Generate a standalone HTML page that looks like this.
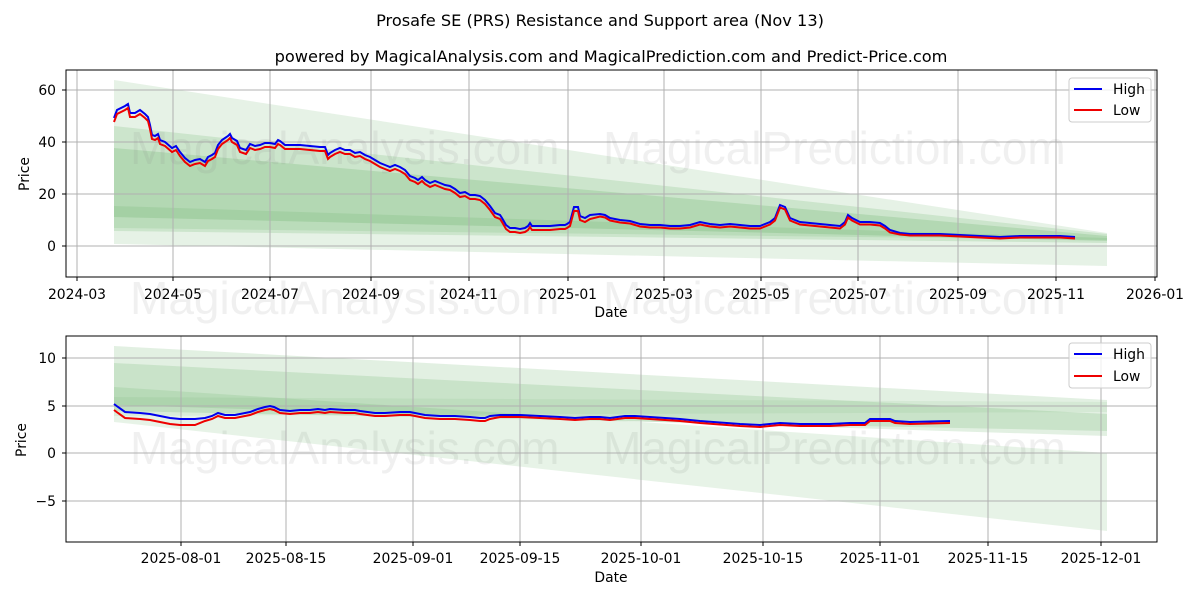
<!DOCTYPE html>
<html><head><meta charset="utf-8"><style>
body{margin:0;background:#fff;}
svg text{font-family:"DejaVu Sans","Liberation Sans",sans-serif;}
svg text.wm{font-family:"Liberation Sans","DejaVu Sans",sans-serif;}
</style></head><body>
<svg id="s" width="1200" height="600" xmlns="http://www.w3.org/2000/svg">
<rect width="1200" height="600" fill="#fff"/>
<text x="600" y="26" font-size="16.2" text-anchor="middle">Prosafe SE (PRS) Resistance and Support area (Nov 13)</text>
<text x="611" y="62" font-size="16.2" text-anchor="middle">powered by MagicalAnalysis.com and MagicalPrediction.com and Predict-Price.com</text>

<!-- top chart -->
<g fill="#3a9a3a">
<polygon points="114,80 1107,233 1107,266 114,244" fill-opacity="0.13"/>
<polygon points="114,126 1107,234 1107,243 114,231" fill-opacity="0.15"/>
<polygon points="114,148 1107,236 1107,241 114,217" fill-opacity="0.17"/>
<polygon points="114,206 1107,238 1107,240 114,228" fill-opacity="0.12"/>
</g>
<g stroke="#b0b0b0" stroke-width="1">
<line x1="77" y1="70" x2="77" y2="277"/><line x1="173" y1="70" x2="173" y2="277"/><line x1="270" y1="70" x2="270" y2="277"/><line x1="371" y1="70" x2="371" y2="277"/><line x1="469" y1="70" x2="469" y2="277"/><line x1="568" y1="70" x2="568" y2="277"/><line x1="664" y1="70" x2="664" y2="277"/><line x1="761" y1="70" x2="761" y2="277"/><line x1="858" y1="70" x2="858" y2="277"/><line x1="958" y1="70" x2="958" y2="277"/><line x1="1056" y1="70" x2="1056" y2="277"/><line x1="1155" y1="70" x2="1155" y2="277"/>
<line x1="66" y1="90" x2="1157" y2="90"/><line x1="66" y1="142" x2="1157" y2="142"/><line x1="66" y1="194" x2="1157" y2="194"/><line x1="66" y1="246" x2="1157" y2="246"/>
</g>
<g font-size="46" fill="#808080" fill-opacity="0.12">
<text class="wm" x="130" y="164">MagicalAnalysis.com</text><text class="wm" x="603" y="164">MagicalPrediction.com</text>
<text class="wm" x="130" y="314">MagicalAnalysis.com</text><text class="wm" x="603" y="314">MagicalPrediction.com</text>
<text class="wm" x="130" y="464">MagicalAnalysis.com</text><text class="wm" x="603" y="464">MagicalPrediction.com</text>
</g>
<path id="th" fill="none" stroke="#0000ee" stroke-width="2"/>
<path id="tl" fill="none" stroke="#ee0000" stroke-width="2"/>
<rect x="66" y="70" width="1091" height="207" fill="none" stroke="#000"/>
<g font-size="13.9" text-anchor="end">
<text x="56" y="95">60</text><text x="56" y="147">40</text><text x="56" y="199">20</text><text x="56" y="251">0</text>
</g>
<g stroke="#000"><line x1="62" y1="90" x2="66" y2="90"/><line x1="62" y1="142" x2="66" y2="142"/><line x1="62" y1="194" x2="66" y2="194"/><line x1="62" y1="246" x2="66" y2="246"/></g>
<g font-size="13.9" text-anchor="middle">
<text x="77" y="299">2024-03</text><text x="173" y="299">2024-05</text><text x="270" y="299">2024-07</text><text x="371" y="299">2024-09</text><text x="469" y="299">2024-11</text><text x="568" y="299">2025-01</text><text x="664" y="299">2025-03</text><text x="761" y="299">2025-05</text><text x="858" y="299">2025-07</text><text x="958" y="299">2025-09</text><text x="1056" y="299">2025-11</text><text x="1155" y="299">2026-01</text>
<text x="611" y="317">Date</text>
<text transform="translate(29,174) rotate(-90)">Price</text>
</g>
<g stroke="#000"><line x1="77" y1="277" x2="77" y2="281"/><line x1="173" y1="277" x2="173" y2="281"/><line x1="270" y1="277" x2="270" y2="281"/><line x1="371" y1="277" x2="371" y2="281"/><line x1="469" y1="277" x2="469" y2="281"/><line x1="568" y1="277" x2="568" y2="281"/><line x1="664" y1="277" x2="664" y2="281"/><line x1="761" y1="277" x2="761" y2="281"/><line x1="858" y1="277" x2="858" y2="281"/><line x1="958" y1="277" x2="958" y2="281"/><line x1="1056" y1="277" x2="1056" y2="281"/><line x1="1155" y1="277" x2="1155" y2="281"/></g>
<rect x="1069" y="78" width="82" height="44" rx="3" fill="#fff" fill-opacity="0.8" stroke="#ccc"/>
<line x1="1074" y1="89" x2="1102" y2="89" stroke="#0000ee" stroke-width="2"/><text x="1113" y="94" font-size="13.9">High</text>
<line x1="1074" y1="110" x2="1102" y2="110" stroke="#ee0000" stroke-width="2"/><text x="1113" y="115" font-size="13.9">Low</text>

<!-- bottom chart -->
<g fill="#3a9a3a">
<polygon points="114,346 1107,400 1107,431 114,411" fill-opacity="0.15"/>
<polygon points="114,363 1107,414 1107,436 114,405" fill-opacity="0.15"/>
<polygon points="114,387 1107,453 1107,531 114,422" fill-opacity="0.12"/>
<polygon points="114,397 1107,402 1107,412 114,416" fill-opacity="0.08"/>
</g>
<g stroke="#b0b0b0" stroke-width="1">
<line x1="181" y1="336" x2="181" y2="542"/><line x1="286" y1="336" x2="286" y2="542"/><line x1="413" y1="336" x2="413" y2="542"/><line x1="520" y1="336" x2="520" y2="542"/><line x1="641" y1="336" x2="641" y2="542"/><line x1="763" y1="336" x2="763" y2="542"/><line x1="880" y1="336" x2="880" y2="542"/><line x1="988" y1="336" x2="988" y2="542"/><line x1="1101" y1="336" x2="1101" y2="542"/>
<line x1="66" y1="358" x2="1157" y2="358"/><line x1="66" y1="406" x2="1157" y2="406"/><line x1="66" y1="453" x2="1157" y2="453"/><line x1="66" y1="501" x2="1157" y2="501"/>
</g>
<path id="bh" fill="none" stroke="#0000ee" stroke-width="2"/>
<path id="bl" fill="none" stroke="#ee0000" stroke-width="2"/>
<rect x="66" y="336" width="1091" height="206" fill="none" stroke="#000"/>
<g font-size="13.9" text-anchor="end">
<text x="56" y="363">10</text><text x="56" y="411">5</text><text x="56" y="458">0</text><text x="56" y="506">−5</text>
</g>
<g stroke="#000"><line x1="62" y1="358" x2="66" y2="358"/><line x1="62" y1="406" x2="66" y2="406"/><line x1="62" y1="453" x2="66" y2="453"/><line x1="62" y1="501" x2="66" y2="501"/>
<line x1="181" y1="542" x2="181" y2="546"/><line x1="286" y1="542" x2="286" y2="546"/><line x1="413" y1="542" x2="413" y2="546"/><line x1="520" y1="542" x2="520" y2="546"/><line x1="641" y1="542" x2="641" y2="546"/><line x1="763" y1="542" x2="763" y2="546"/><line x1="880" y1="542" x2="880" y2="546"/><line x1="988" y1="542" x2="988" y2="546"/><line x1="1101" y1="542" x2="1101" y2="546"/></g>
<g font-size="13.9" text-anchor="middle">
<text x="181" y="563">2025-08-01</text><text x="286" y="563">2025-08-15</text><text x="413" y="563">2025-09-01</text><text x="520" y="563">2025-09-15</text><text x="641" y="563">2025-10-01</text><text x="763" y="563">2025-10-15</text><text x="880" y="563">2025-11-01</text><text x="988" y="563">2025-11-15</text><text x="1101" y="563">2025-12-01</text>
<text x="611" y="582">Date</text>
<text transform="translate(26,440) rotate(-90)">Price</text>
</g>
<rect x="1069" y="343" width="82" height="45" rx="3" fill="#fff" fill-opacity="0.8" stroke="#ccc"/>
<line x1="1074" y1="354" x2="1102" y2="354" stroke="#0000ee" stroke-width="2"/><text x="1113" y="359" font-size="13.9">High</text>
<line x1="1074" y1="376" x2="1102" y2="376" stroke="#ee0000" stroke-width="2"/><text x="1113" y="381" font-size="13.9">Low</text>
</svg>
<script>
var T=[114,118,117,110,125,106,128,104,130,113,135,113,140,110,145,114,148,117,150,125,152,135,155,136,158,134,160,140,165,142,172,148,176,146,180,152,185,158,190,162,195,160,200,159,205,162,208,157,212,155,215,153,218,145,222,140,228,136,230,134,232,138,237,141,240,148,246,150,250,144,255,146,260,145,265,143,270,143,275,144,278,140,280,141,285,145,290,145,300,145,310,146,320,147,325,147,328,155,330,153,335,150,340,148,345,150,350,150,355,153,360,152,365,155,370,157,375,160,380,163,385,165,390,167,395,165,400,167,405,170,410,176,415,178,418,180,422,177,425,180,430,183,435,181,440,183,445,185,450,186,455,189,460,193,465,192,470,195,475,195,480,196,485,200,490,206,495,213,500,215,502,218,506,225,510,228,515,228,520,229,525,228,528,226,530,223,532,226,540,226,550,226,560,225,565,225,567,224,570,222,574,207,578,207,580,216,585,218,590,215,600,214,605,215,610,218,620,220,630,221,640,224,650,225,660,225,670,226,680,226,690,225,700,222,710,224,720,225,730,224,740,225,750,226,760,226,770,222,775,218,780,205,785,207,790,218,800,222,810,223,820,224,830,225,840,226,845,222,848,215,852,218,860,222,870,222,880,223,885,226,890,230,900,233,910,234,920,234,930,234,940,234,960,235,980,236,1000,237,1020,236,1040,236,1060,236,1075,237];
var B=[114,404,118,407,125,412,140,413,150,414,160,416,170,418,180,419,195,419,205,418,212,416,218,413,225,415,235,415,250,412,258,409,265,407,270,406,274,407,280,410,290,411,300,410,310,410,318,409,325,410,330,409,345,410,355,410,360,411,375,413,385,413,400,412,410,412,415,413,425,415,440,416,455,416,470,417,480,418,485,418,490,416,500,415,520,415,540,416,560,417,575,418,590,417,600,417,610,418,625,416,635,416,650,417,680,419,700,421,740,424,760,425,780,423,800,424,830,424,850,423,865,423,870,419,890,419,895,421,910,422,950,421];
function mk(a,off){var d="";for(var i=0;i<a.length;i+=2){d+=(i?"L":"M")+a[i]+","+(a[i+1]+off(a[i]));}return d;}
document.getElementById("th").setAttribute("d",mk(T,function(x){return 0;}));
document.getElementById("tl").setAttribute("d",mk(T,function(x){return x<600?4:(x<900?2.5:1.5);}));
document.getElementById("bh").setAttribute("d",mk(B,function(x){return 0;}));
document.getElementById("bl").setAttribute("d",mk(B,function(x){return x<200?6:(x<500?3:2);}));
</script>
</body></html>
